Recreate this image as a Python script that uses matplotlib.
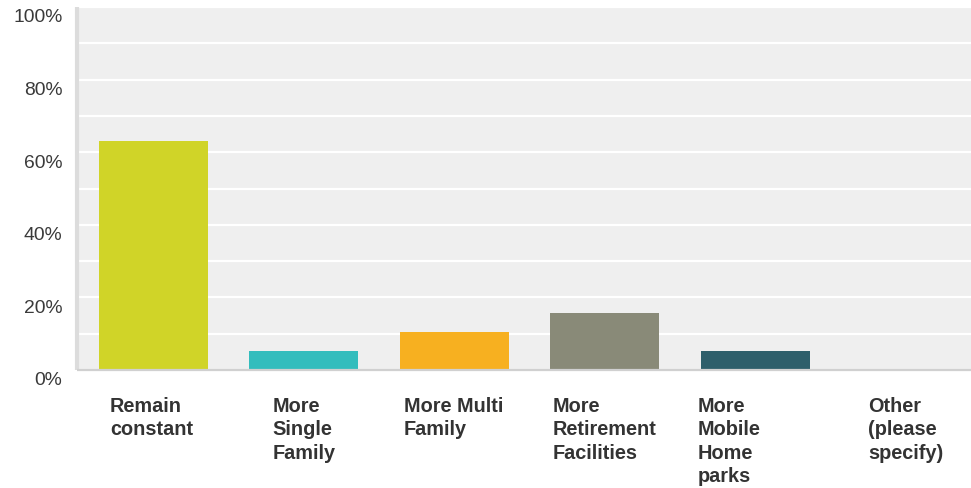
import matplotlib
matplotlib.use("Agg")
import matplotlib.pyplot as plt
from matplotlib.transforms import ScaledTranslation

categories = [
    "Remain\nconstant",
    "More\nSingle\nFamily",
    "More Multi\nFamily",
    "More\nRetirement\nFacilities",
    "More\nMobile\nHome\nparks",
    "Other\n(please\nspecify)",
]
percentages = [63.16, 5.26, 10.53, 15.79, 5.26, 0.0]
bar_colors = ["#d0d428", "#33bdbd", "#f7b020", "#898a78", "#2e5f6b", "#8fb04a"]
y_ticks = [0, 20, 40, 60, 80, 100]
y_tick_labels = ["0%", "20%", "40%", "60%", "80%", "100%"]

# horizontal shift of each wrapped label block from its bar centre (pixels)
label_shift_px = [-43.5, -31.5, -50.5, -52.5, -57.5, -38]

W, H, DPI = 971, 489, 100
fig = plt.figure(figsize=(W / DPI, H / DPI), dpi=DPI)
fig.patch.set_facecolor("white")

ax_left, ax_top, ax_bottom = 77, 8, 371
ax = fig.add_axes([ax_left / W, (H - ax_bottom) / H, (W - ax_left) / W, (ax_bottom - ax_top) / H])
ax.set_facecolor("#efefef")

x = list(range(len(categories)))
ax.bar(x, percentages, width=0.724, color=bar_colors, zorder=3)

ax.set_xlim(-0.508, 5.432)
ax.set_ylim(0, 100)

# white grid every 10 %
ax.set_yticks(y_ticks)
ax.set_yticks(range(10, 100, 20), minor=True)
ax.grid(axis="y", which="both", color="white", linewidth=1.6, zorder=1)
ax.set_axisbelow(True)
ax.tick_params(axis="y", which="both", length=0, pad=10.5)
ax.set_yticklabels(y_tick_labels, fontsize=13.9, color="#3a3a3a", family="Liberation Sans")
shift = ScaledTranslation(0, -8 / DPI, fig.dpi_scale_trans)
for lab in ax.get_yticklabels():
    lab.set_transform(lab.get_transform() + shift)

ax.set_xticks([])

for side in ("top", "right"):
    ax.spines[side].set_visible(False)
ax.spines["left"].set_color("#dcdcdc")
ax.spines["left"].set_linewidth(3.0)
ax.spines["left"].set_capstyle("butt")
ax.spines["bottom"].set_color("#d0d0d0")
ax.spines["bottom"].set_linewidth(1.6)
ax.spines["bottom"].set_capstyle("butt")
ax.spines["bottom"].set_zorder(4)

# wrapped category labels, left-aligned lines under each bar
line_step = 23.5
first_baseline = 412
for i, (label, dx) in enumerate(zip(categories, label_shift_px)):
    for j, line in enumerate(label.split("\n")):
        off = ScaledTranslation(dx / DPI, -(first_baseline - ax_bottom + j * line_step) / DPI,
                                fig.dpi_scale_trans)
        ax.text(i, 0, line, transform=ax.transData + off, ha="left", va="baseline",
                fontsize=14.3, fontweight="bold", color="#333333",
                family="Liberation Sans", clip_on=False)

fig.savefig("out.png", dpi=DPI)
